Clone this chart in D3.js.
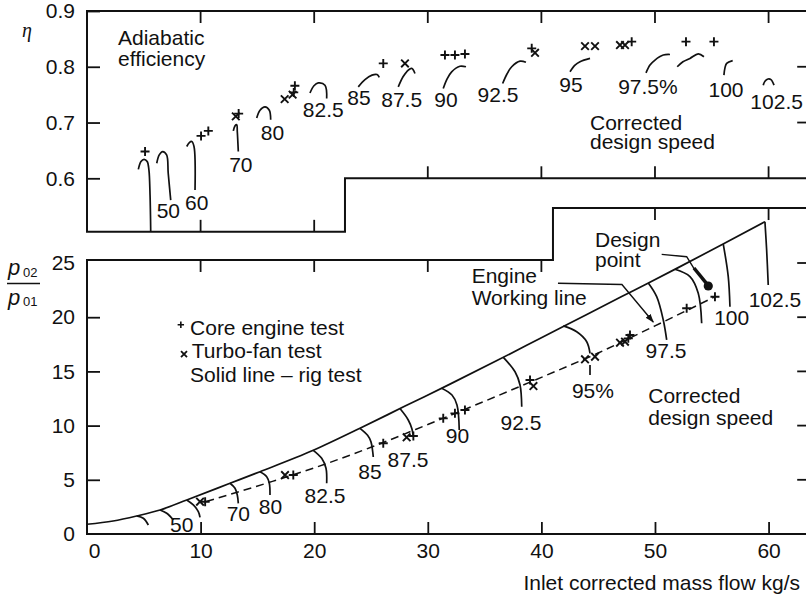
<!DOCTYPE html>
<html><head><meta charset="utf-8">
<script src="https://cdn.jsdelivr.net/npm/d3@7"></script>
<style>
html,body{margin:0;padding:0;background:#fff;}
svg{display:block;}
text{font-family:"Liberation Sans",Arial,Helvetica,sans-serif;fill:#111;}
</style></head><body>
<svg id="c" width="806" height="596"></svg>
<script>
// ---------- data ----------
const massTicks = [0, 10, 20, 30, 40, 50, 60];
const prTicks = [0, 5, 10, 15, 20, 25];
const etaTicks = [0.6, 0.7, 0.8, 0.9];

// Upper panel: adiabatic efficiency vs inlet corrected mass flow
const etaArcs = [
  [[4.52,0.616],[4.75,0.630],[5.02,0.634],[5.30,0.630],[5.45,0.615],[5.55,0.570],[5.61,0.504]],
  [[6.14,0.627],[6.36,0.642],[6.66,0.648],[7.01,0.642],[7.15,0.609],[7.37,0.561]],
  [[8.78,0.657],[9.01,0.664],[9.22,0.666],[9.42,0.657],[9.51,0.579]],
  [[12.88,0.685],[13.03,0.694],[13.18,0.696],[13.23,0.684],[13.32,0.648]],
  [[14.94,0.708],[15.23,0.722],[15.67,0.728],[16.05,0.722],[16.17,0.705]],
  [[19.63,0.753],[19.98,0.766],[20.36,0.771],[20.95,0.767],[21.10,0.743]],
  [[23.88,0.764],[24.47,0.777],[25.09,0.785],[25.53,0.786],[25.73,0.781]],
  [[27.40,0.764],[27.82,0.782],[28.14,0.791],[28.58,0.797],[28.87,0.788]],
  [[31.36,0.761],[31.69,0.778],[32.10,0.791],[32.83,0.801],[33.36,0.800]],
  [[36.59,0.770],[36.97,0.787],[37.39,0.800],[38.12,0.810],[38.64,0.808]],
  [[42.52,0.791],[42.96,0.803],[43.40,0.809],[44.28,0.815]],
  [[49.21,0.789],[49.56,0.803],[50.00,0.812],[50.73,0.821],[51.32,0.822]],
  [[51.96,0.800],[52.46,0.809],[53.08,0.815],[53.81,0.823],[54.31,0.818]],
  [[56.07,0.785],[56.16,0.798],[56.31,0.806],[56.84,0.811]],
  [[59.53,0.767],[59.68,0.774],[59.95,0.778],[60.21,0.777],[60.48,0.767]]
];
const etaLabels = ["50","60","70","80","82.5","85","87.5","90","92.5","95","97.5%","100","102.5"];
const etaLabelAt = [[7.16,0.528],[9.66,0.543],[13.54,0.612],[16.33,0.669],[20.80,0.710],[23.94,0.731],
  [27.70,0.728],[31.60,0.728],[36.18,0.737],[42.61,0.755],[49.38,0.751],[56.25,0.745],[60.71,0.724]];
const etaCore = [[5.11,0.648],[10.04,0.676],[10.68,0.685],[13.35,0.716],[18.2,0.754],[18.3,0.766],
  [26.08,0.806],[31.51,0.821],[32.39,0.821],[33.27,0.823],[39.15,0.833],[47.95,0.845],[52.73,0.845],[55.19,0.845]];
const etaFan = [[13.1,0.711],[17.4,0.742],[18.1,0.750],[27.99,0.806],[39.44,0.825],[43.84,0.837],
  [44.72,0.837],[46.92,0.839],[47.36,0.839]];

// Lower panel: pressure ratio p02/p01 vs inlet corrected mass flow
const surgeLine = [[0,0.9],[2.3,1.2],[4.37,1.66],[6.43,2.21],[8.78,3.14],[12.59,4.68],[15.23,5.75],
  [19.92,7.72],[24.03,9.75],[28,11.8],[32,13.85],[36,15.95],[40,18.1],[44,20.25],[48,22.4],
  [52,24.55],[56,26.75],[59.68,28.8]];
const workingLine = [[10.5,3.0],[16,4.75],[20,6.1],[25,8.0],[30,10.1],[35,12.25],[40,14.45],
  [45,16.7],[50,19.2],[55.3,21.9]];
const prArcs = [
  [[4.37,1.66],[4.96,1.45],[5.40,0.83]],
  [[6.43,2.21],[7.02,1.91],[7.60,1.29]],
  [[8.78,3.14],[9.36,2.68],[9.80,2.06],[9.95,1.54]],
  [[12.59,4.68],[13.03,4.22],[13.23,3.60],[13.32,2.83]],
  [[15.23,5.75],[15.82,5.29],[16.05,4.68],[16.11,3.60]],
  [[19.92,7.72],[20.66,6.98],[21.04,6.06],[21.10,4.68]],
  [[24.03,9.75],[24.7,9.1],[25.0,8.5],[25.15,7.6],[25.2,7.1]],
  [[27.55,11.57],[28.28,10.52],[28.6,9.7],[28.73,8.98]],
  [[31.22,13.45],[32.13,12.82],[32.57,11.9],[32.77,9.59]],
  [[36.65,16.3],[37.68,14.97],[38.12,13.75],[38.27,11.74]],
  [[41.93,19.2],[43.11,18.66],[43.99,17.74],[44.28,16.67]],
  [[44.28,15.59],[44.28,14.67]],
  [[49.41,23.15],[50.15,21.89],[50.73,19.74],[51.03,17.90]],
  [[51.76,24.42],[53.08,23.74],[53.81,22.20],[54.11,19.44]],
  [[56.01,26.75],[56.45,23.74],[56.60,20.97]],
  [[59.68,28.8],[59.83,26.2],[59.97,22.97]]
];
const prLabels = ["50","70","80","82.5","85","87.5","90","92.5","95%","97.5","100","102.5"];
const prLabelAt = [[8.34,0.21],[13.32,1.2],[16.15,1.82],[20.95,2.89],[24.91,5.05],[28.26,6.18],
  [32.61,8.37],[38.2,9.59],[44.54,12.52],[50.97,16.21],[56.75,19.28],[60.56,20.97]];
const prCore = [[10.4,2.98],[18.16,5.44],[26.08,8.37],[28.73,9.04],[31.36,10.67],[32.39,11.13],
  [33.27,11.44],[39.0,14.2],[47.65,18.05],[47.8,18.36],[52.79,20.82],[55.28,21.89]];
const prFan = [[9.95,2.98],[17.43,5.44],[28.14,8.92],[39.3,13.65],[43.84,16.12],[44.72,16.36],
  [46.92,17.65],[47.36,17.74]];
const designPoint = [54.69, 22.88];

// ---------- drawing ----------
const W = 806, H = 596;
const svg = d3.select("#c");
svg.append("rect").attr("width", W).attr("height", H).attr("fill", "#fff");

const x = d3.scaleLinear().domain([0, 63.4]).range([87, 807.2]);
const yE = d3.scaleLinear().domain([0.6, 0.9]).range([178.3, 11]);
const yP = d3.scaleLinear().domain([0, 25]).range([534, 263]);
const FS = 21;
const ink = "#111";

const lineE = d3.line().x(d => x(d[0])).y(d => yE(d[1]));
const lineP = d3.line().x(d => x(d[0])).y(d => yP(d[1]));
const curveE = d3.line().x(d => x(d[0])).y(d => yE(d[1])).curve(d3.curveCatmullRom.alpha(0.5));
const curveP = d3.line().x(d => x(d[0])).y(d => yP(d[1])).curve(d3.curveCatmullRom.alpha(0.5));

// frames
const xEnd = x.domain()[1];
const topFrame = [[xEnd,0.9],[0,0.9],[0,0.504],[22.71,0.504],[22.71,0.6],[xEnd,0.6]];
const botFrame = [[xEnd,0],[0,0],[0,25.28],[41.02,25.28],[41.02,30.07],[xEnd,30.07]];
svg.append("path").attr("d", lineE(topFrame)).attr("fill","none").attr("stroke",ink).attr("stroke-width",2);
svg.append("path").attr("d", lineP(botFrame)).attr("fill","none").attr("stroke",ink).attr("stroke-width",2);

function styleAxis(g){
  g.select(".domain").remove();
  g.attr("font-size", FS).attr("font-family", '"Liberation Sans",Arial,sans-serif');
  g.selectAll(".tick line").attr("stroke", ink).attr("stroke-width", 1.8);
  g.selectAll(".tick text").attr("fill", ink);
}
// left axes
svg.append("g").attr("transform", `translate(${x(0)},0)`)
  .call(d3.axisLeft(yE).tickValues(etaTicks).tickSize(-13).tickPadding(12).tickFormat(d3.format(".1f")))
  .call(styleAxis);
const gl = svg.append("g").attr("transform", `translate(${x(0)},0)`)
  .call(d3.axisLeft(yP).tickValues(prTicks).tickSize(-13).tickPadding(12))
  .call(styleAxis);
gl.selectAll(".tick").filter(d => d === 25 || d === 0).select("line").remove();
// bottom axis
const gb = svg.append("g").attr("transform", `translate(0,${yP(0)})`)
  .call(d3.axisBottom(x).tickValues(massTicks).tickSize(-12).tickPadding(9))
  .call(styleAxis);
gb.selectAll(".tick").filter(d => d === 0).select("line").remove();
gb.selectAll(".tick").filter(d => d === 0).select("text").attr("dx", 7);

// extra border ticks
const TL = 12;
function vTicks(vals, yScale, yVal, dir){
  svg.append("g").selectAll("line").data(vals).join("line")
    .attr("x1", d => x(d)).attr("x2", d => x(d))
    .attr("y1", yScale(yVal)).attr("y2", yScale(yVal) + dir*TL)
    .attr("stroke", ink).attr("stroke-width", 1.8);
}
function hTicksRight(vals, yScale){
  svg.append("g").selectAll("line").data(vals).join("line")
    .attr("x1", x(xEnd)).attr("x2", x(xEnd) - 10)
    .attr("y1", d => yScale(d)).attr("y2", d => yScale(d))
    .attr("stroke", ink).attr("stroke-width", 1.8);
}
vTicks([10,20,30,40,50,60], yE, 0.9, 1);
vTicks([10,20], yE, 0.504, -1);
vTicks([30,40,50,60], yE, 0.6, -1);
vTicks([10,20,30,40], yP, 25.28, 1);
vTicks([50,60], yP, 30.07, 1);
hTicksRight([0.7,0.8], yE);
hTicksRight([5,10,15,20,25], yP);

// upper panel curves
svg.append("g").selectAll("path").data(etaArcs).join("path")
  .attr("d", curveE).attr("fill","none").attr("stroke",ink).attr("stroke-width",1.7);
// lower panel curves
svg.append("path").attr("d", d3.line().x(d=>x(d[0])).y(d=>yP(d[1])).curve(d3.curveMonotoneX)(surgeLine))
  .attr("fill","none").attr("stroke",ink).attr("stroke-width",1.7);
svg.append("path").attr("d", d3.line().x(d=>x(d[0])).y(d=>yP(d[1])).curve(d3.curveMonotoneX)(workingLine))
  .attr("fill","none").attr("stroke",ink).attr("stroke-width",1.5).attr("stroke-dasharray","8,5");
svg.append("g").selectAll("path").data(prArcs).join("path")
  .attr("d", curveP).attr("fill","none").attr("stroke",ink).attr("stroke-width",1.7);

// markers
const plusPath = "M-4.5,0H4.5M0,-4.5V4.5";
const crossPath = "M-3.8,-3.8L3.8,3.8M-3.8,3.8L3.8,-3.8";
function markers(data, ys, p){
  svg.append("g").selectAll("path").data(data).join("path")
    .attr("transform", d => `translate(${x(d[0])},${ys(d[1])})`)
    .attr("d", p).attr("fill","none").attr("stroke",ink).attr("stroke-width",1.9);
}
markers(etaCore, yE, plusPath);
markers(etaFan, yE, crossPath);
markers(prCore, yP, plusPath);
markers(prFan, yP, crossPath);

// speed labels
function labels(txt, at, ys){
  svg.append("g").selectAll("text").data(txt).join("text")
    .attr("x", (d,i) => x(at[i][0])).attr("y", (d,i) => ys(at[i][1]))
    .attr("text-anchor","middle").attr("font-size",FS).text(d => d);
}
labels(etaLabels, etaLabelAt, yE);
labels(prLabels, prLabelAt, yP);

// annotations (multi-line blocks as one text element with tspans)
function block(lines, xv, yvs, ys){
  const t = svg.append("text").attr("font-size", FS);
  lines.forEach((s, i) => {
    t.append("tspan").attr("x", x(xv)).attr("y", ys(yvs[i])).text(s);
  });
}
block(["Adiabatic", "efficiency"], 2.73, [0.839, 0.801], yE);
block(["Corrected", "design speed"], 44.28, [0.687, 0.652], yE);
block(["Core engine test"], 9.07, [18.36], yP);
block(["Turbo-fan test"], 9.22, [16.21], yP);
block(["Solid line  \u2013  rig test"], 9.07, [14.05], yP);
block(["Engine", "Working line"], 33.86, [23.2, 21.08], yP);
block(["Design", "point"], 44.72, [26.45, 24.63], yP);
block(["Corrected", "design speed"], 49.41, [12.06, 10.10], yP);
// legend symbols
svg.append("path").attr("transform", `translate(${x(8.26)},${yP(19.3)})`)
  .attr("d","M-3.2,0H3.2M0,-3.2V3.2").attr("stroke",ink).attr("stroke-width",1.6);
svg.append("path").attr("transform", `translate(${x(8.54)},${yP(16.6)})`)
  .attr("d","M-3,-3L3,3M-3,3L3,-3").attr("stroke",ink).attr("stroke-width",1.8);

// leaders
const defs = svg.append("defs");
defs.append("marker").attr("id","arr").attr("viewBox","0 0 10 10").attr("refX",9).attr("refY",5)
  .attr("markerWidth",9).attr("markerHeight",9).attr("markerUnits","userSpaceOnUse").attr("orient","auto")
  .append("path").attr("d","M0,1.5L10,5L0,8.5Z").attr("fill",ink);
svg.append("path").attr("d", lineP([[41.46,23.13],[47.09,23.02],[49.85,19.56]]))
  .attr("fill","none").attr("stroke",ink).attr("stroke-width",1.4).attr("marker-end","url(#arr)");
svg.append("path").attr("d", lineP([[50.59,25.8],[52.79,25.58],[53.52,24.35]]))
  .attr("fill","none").attr("stroke",ink).attr("stroke-width",1.4);
svg.append("path").attr("d", lineP([[53.43,24.54],[54.55,23.1]]))
  .attr("fill","none").attr("stroke",ink).attr("stroke-width",3.5);
svg.append("circle").attr("cx", x(designPoint[0])).attr("cy", yP(designPoint[1])).attr("r",4.6).attr("fill",ink);

// axis titles
svg.append("text").attr("x", 22).attr("y", 37).attr("font-size",20).attr("font-style","italic")
  .style("font-family",'"Liberation Serif","DejaVu Serif",serif').text("\u03B7");
const yl = svg.append("g");
yl.append("text").attr("x", 8).attr("y", 275).attr("font-size",22).attr("font-style","italic").text("p");
yl.append("text").attr("x", 23).attr("y", 277).attr("font-size",13).text("02");
yl.append("line").attr("x1",7).attr("x2",40).attr("y1",283.5).attr("y2",283.5).attr("stroke",ink).attr("stroke-width",1.6);
yl.append("text").attr("x", 8).attr("y", 305).attr("font-size",22).attr("font-style","italic").text("p");
yl.append("text").attr("x", 23).attr("y", 306).attr("font-size",13).text("01");
svg.append("text").attr("x", 800).attr("y", 590).attr("text-anchor","end").attr("font-size",FS)
  .text("Inlet corrected mass flow kg/s");
</script>
</body></html>
